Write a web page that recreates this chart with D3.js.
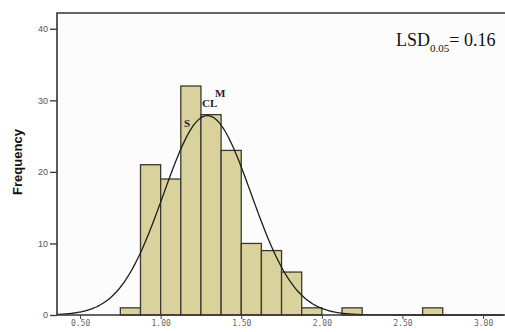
<!DOCTYPE html>
<html>
<head>
<meta charset="utf-8">
<script src="https://cdn.jsdelivr.net/npm/d3@7"></script>
<style>
  body { margin: 0; background: #fff; }
  svg { display: block; }
</style>
</head>
<body>
<script>
// histogram bins (lower edge) and frequencies, bin width 0.125
var binStarts = [0.75, 0.875, 1.0, 1.125, 1.25, 1.375, 1.5, 1.625, 1.75, 1.875, 2.125, 2.625];
var counts    = [1, 21, 19, 32, 28, 23, 10, 9, 6, 1, 1, 1];
var binWidth = 0.125;

// fitted normal curve parameters
var curveMean = 1.29, curveSd = 0.272, curveN = 152;

var xTicks = [0.5, 1.0, 1.5, 2.0, 2.5, 3.0];
var xTickLabels = ["0.50", "1.00", "1.50", "2.00", "2.50", "3.00"];
var yTicks = [0, 10, 20, 30, 40];
var yTickLabels = ["0", "10", "20", "30", "40"];

var marks = [
  {label: "S",  x: 1.145, y: 26.3},
  {label: "CL", x: 1.257, y: 29.1},
  {label: "M",  x: 1.337, y: 30.5}
];

var margin = {top: 13, right: 0, bottom: 17, left: 57},
    width = 505 - margin.left - margin.right,
    height = 332 - margin.top - margin.bottom;

var svg = d3.select("body").append("svg")
    .attr("width", 505)
    .attr("height", 332)
  .append("g")
    .attr("transform", "translate(" + margin.left + "," + margin.top + ")");

var x = d3.scaleLinear()
    .domain([0.357, 0.357 + width / 161.2])
    .range([0, width]);
var y = d3.scaleLinear()
    .domain([0, height / 7.156])
    .range([height, 0]);

svg.append("rect")
    .attr("width", width + 2)
    .attr("height", height)
    .attr("fill", "#fcfcfc");

svg.selectAll(".bar")
    .data(counts)
    .enter().append("rect")
    .attr("class", "bar")
    .attr("x", function(d, i) { return x(binStarts[i]); })
    .attr("width", function(d, i) { return x(binStarts[i] + binWidth) - x(binStarts[i]); })
    .attr("y", function(d) { return y(d); })
    .attr("height", function(d) { return y(0) - y(d); })
    .attr("fill", "#d9d29c")
    .attr("stroke", "#3a3a32")
    .attr("stroke-width", 1.3);

// normal curve
var curvePts = d3.range(x.domain()[0], x.domain()[1], 0.01).map(function(v) {
  var z = (v - curveMean) / curveSd;
  return [v, curveN * binWidth / (curveSd * Math.sqrt(2 * Math.PI)) * Math.exp(-0.5 * z * z)];
});
svg.append("path")
    .datum(curvePts)
    .attr("fill", "none")
    .attr("stroke", "#1e1e1e")
    .attr("stroke-width", 1.3)
    .attr("d", d3.line()
      .x(function(d) { return x(d[0]); })
      .y(function(d) { return y(d[1]); })
      .curve(d3.curveBasis));

// frame
svg.append("path")
    .attr("d", "M" + (width + 2) + ",0H0V" + height + "H" + (width + 2))
    .attr("fill", "none")
    .attr("stroke", "#333")
    .attr("stroke-width", 1.6);

// axes
var xAxis = svg.append("g")
    .attr("transform", "translate(0," + height + ")")
    .call(d3.axisBottom(x).tickValues(xTicks)
      .tickFormat(function(d, i) { return xTickLabels[i]; })
      .tickSize(4).tickPadding(1));
xAxis.select(".domain").remove();
xAxis.selectAll("line").attr("stroke", "#444");
xAxis.selectAll("text")
    .attr("fill", "#666")
    .style("font-family", "DejaVu Sans Mono, monospace")
    .style("font-size", "8px");

var yAxis = svg.append("g")
    .call(d3.axisLeft(y).tickValues(yTicks)
      .tickFormat(function(d, i) { return yTickLabels[i]; })
      .tickSize(7).tickPadding(2));
yAxis.select(".domain").remove();
yAxis.selectAll("line").attr("stroke", "#333").attr("stroke-width", 1.3);
yAxis.selectAll("text")
    .attr("fill", "#555")
    .style("font-family", "Liberation Sans, Arial, sans-serif")
    .style("font-size", "9px");

svg.append("text")
    .attr("transform", "translate(-35," + (height / 2 - 2) + ") rotate(-90)")
    .attr("text-anchor", "middle")
    .style("font-family", "Liberation Sans, Arial, sans-serif")
    .style("font-weight", "bold")
    .style("font-size", "13px")
    .attr("fill", "#111")
    .text("Frequency");

svg.selectAll(".mark")
    .data(marks)
    .enter().append("text")
    .attr("class", "mark")
    .attr("x", function(d) { return x(d.x); })
    .attr("y", function(d) { return y(d.y); })
    .style("font-family", "Liberation Serif, Times New Roman, serif")
    .style("font-weight", "bold")
    .style("font-size", "11px")
    .attr("fill", "#1c1c30")
    .text(function(d) { return d.label; });

var lsd = svg.append("text")
    .attr("x", 396 - margin.left)
    .attr("y", 46 - margin.top)
    .style("font-family", "Liberation Serif, Times New Roman, serif")
    .style("font-size", "18px")
    .attr("fill", "#111");
lsd.append("tspan").text("LSD");
lsd.append("tspan").attr("dy", 6).style("font-size", "11px").text("0.05");
lsd.append("tspan").attr("dy", -6).text("= 0.16");
</script>
</body>
</html>
